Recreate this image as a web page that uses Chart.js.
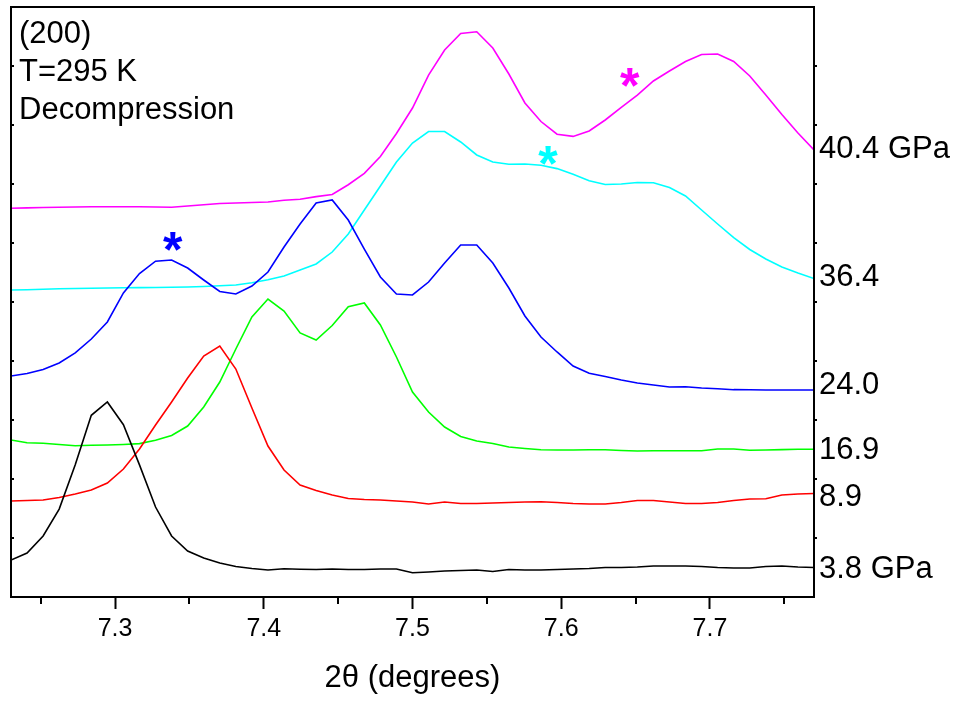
<!DOCTYPE html>
<html>
<head>
<meta charset="utf-8">
<title>(200) T=295 K Decompression</title>
<script src="https://cdn.jsdelivr.net/npm/chart.js@4.4.1/dist/chart.umd.min.js"></script>
<style>
  body { margin: 0; background: #fff; }
  #wrap { width: 960px; height: 702px; }
</style>
</head>
<body>
<div id="wrap"><canvas id="xrd" width="960" height="702"></canvas></div>
<script>
// 2theta sampling (degrees)
const twoTheta = [7.2300, 7.2408, 7.2516, 7.2624, 7.2732, 7.2840, 7.2948, 7.3056, 7.3164, 7.3272,
  7.3380, 7.3488, 7.3596, 7.3704, 7.3812, 7.3920, 7.4028, 7.4136, 7.4244, 7.4352,
  7.4460, 7.4568, 7.4676, 7.4784, 7.4892, 7.5000, 7.5108, 7.5216, 7.5324, 7.5432,
  7.5540, 7.5648, 7.5756, 7.5864, 7.5972, 7.6080, 7.6188, 7.6296, 7.6404, 7.6512,
  7.6620, 7.6728, 7.6836, 7.6944, 7.7052, 7.7160, 7.7268, 7.7376, 7.7484, 7.7592, 7.7700];

// intensities (a.u., stacked with offsets as in the plot)
const p38 = [6.27, 7.46, 10.34, 14.9, 22.4, 30.8, 33.05, 29.2, 22.4, 15.25,
  10.34, 7.8, 6.6, 5.76, 5.17, 4.83, 4.58, 4.8, 4.7, 4.66,
  4.75, 4.66, 4.66, 4.75, 4.75, 4.12, 4.24, 4.41, 4.49, 4.58,
  4.32, 4.66, 4.58, 4.58, 4.66, 4.75, 4.83, 5.0, 5.0, 5.08,
  5.25, 5.25, 5.25, 5.17, 5.0, 4.92, 4.92, 5.17, 5.25, 5.08, 5.0];
const p89 = [16.27, 16.36, 16.44, 16.86, 17.46, 18.14, 19.32, 21.69, 25.08, 29.15,
  33.05, 37.12, 40.85, 42.54, 38.64, 32.03, 25.59, 21.53, 18.98, 18.05,
  17.29, 16.69, 16.53, 16.44, 16.27, 16.10, 15.76, 16.10, 15.85, 15.85,
  15.93, 16.02, 16.10, 16.14, 16.02, 15.85, 15.76, 15.76, 16.02, 16.36,
  16.36, 16.10, 15.85, 15.85, 16.02, 16.36, 16.61, 16.66, 17.29, 17.46, 17.54];
const p169 = [26.61, 26.15, 26.07, 25.85, 25.63, 25.71, 25.76, 25.85, 26.0, 26.56,
  27.37, 28.98, 32.20, 36.44, 42.03, 47.46, 50.51, 48.47, 44.75, 43.56,
  46.02, 49.20, 49.83, 46.10, 40.68, 34.75, 31.36, 28.81, 27.20, 26.44,
  26.02, 25.42, 25.17, 24.97, 24.92, 24.92, 24.95, 24.95, 24.83, 24.75,
  24.80, 24.80, 24.80, 24.80, 25.08, 25.08, 24.88, 24.92, 24.98, 25.03, 25.05];
const p240 = [37.46, 37.88, 38.56, 39.66, 41.36, 43.73, 46.61, 51.53, 54.83, 56.92,
  57.12, 55.76, 53.73, 51.78, 51.36, 52.71, 55.08, 59.32, 63.22, 66.78,
  67.29, 63.90, 58.98, 54.24, 51.36, 51.19, 53.39, 56.61, 59.66, 59.66,
  56.61, 52.37, 47.63, 44.07, 41.53, 39.15, 37.92, 37.37, 36.78, 36.27,
  35.93, 35.59, 35.63, 35.42, 35.29, 35.14, 35.12, 35.08, 35.08, 35.08, 35.08];
const p364 = [52.03, 52.08, 52.15, 52.25, 52.29, 52.32, 52.37, 52.41, 52.44, 52.47,
  52.51, 52.54, 52.63, 52.75, 52.88, 53.25, 53.76, 54.41, 55.42, 56.44,
  58.47, 61.53, 65.59, 69.66, 73.73, 76.95, 78.90, 78.90, 77.12, 74.92,
  73.73, 73.34, 73.39, 73.17, 72.61, 71.64, 70.56, 69.92, 70.0, 70.25,
  70.22, 69.41, 67.97, 65.59, 63.22, 60.90, 58.90, 57.29, 55.93, 54.92, 53.98];
const p404 = [65.88, 65.95, 66.02, 66.07, 66.10, 66.14, 66.15, 66.15, 66.15, 66.10,
  66.07, 66.27, 66.49, 66.69, 66.78, 66.86, 66.95, 67.24, 67.42, 67.86,
  68.22, 69.88, 71.81, 74.66, 78.56, 82.88, 88.47, 92.71, 95.51, 95.80,
  93.05, 88.64, 83.73, 80.59, 78.44, 78.07, 78.98, 80.85, 82.97, 85.08,
  87.46, 89.15, 90.76, 91.95, 92.03, 90.76, 88.31, 85.08, 81.78, 78.64, 75.76];

const xTicks = [7.3, 7.4, 7.5, 7.6, 7.7];
const xMinorTicks = [7.25, 7.35, 7.45, 7.55, 7.65, 7.75];
const yTicks = [10, 20, 30, 40, 50, 60, 70, 80, 90];

const pressureLabels = ['40.4 GPa', '36.4', '24.0', '16.9', '8.9', '3.8 GPa'];
const pressureLabelLevels = [75.8, 54.1, 35.9, 24.9, 16.9, 4.6];

const infoLines = ['(200)', 'T=295 K', 'Decompression'];

// asterisks marking extra peaks
const starX = [7.3387, 7.5911, 7.6461];
const starY = [60.3, 74.9, 88.05];
const starColors = ['#0000ff', '#00ffff', '#ff00ff'];

const FONT = '"Liberation Sans", Arial, Helvetica, sans-serif';

function toPoints(ys) {
  return twoTheta.map((x, i) => ({ x: x, y: ys[i] }));
}

function series(label, ys, color) {
  return {
    label: label,
    data: toPoints(ys),
    borderColor: color,
    borderWidth: 1.6,
    pointRadius: 0,
    tension: 0,
    fill: false
  };
}

const extras = {
  id: 'extras',
  afterDraw(chart) {
    const ctx = chart.ctx;
    const a = chart.chartArea;
    const x = chart.scales.x;
    const y = chart.scales.y;
    ctx.save();

    // frame
    ctx.strokeStyle = '#000';
    ctx.lineWidth = 2;
    ctx.strokeRect(a.left, a.top, a.right - a.left, a.bottom - a.top);

    // minor x ticks
    xMinorTicks.forEach(v => {
      const px = Math.round(x.getPixelForValue(v));
      ctx.beginPath();
      ctx.moveTo(px, a.bottom);
      ctx.lineTo(px, a.bottom + 7);
      ctx.stroke();
    });

    // small y ticks, left side inward, right side outward
    yTicks.forEach(v => {
      const py = Math.round(y.getPixelForValue(v));
      ctx.beginPath();
      ctx.moveTo(a.left, py);
      ctx.lineTo(a.left + 3, py);
      ctx.moveTo(a.right, py);
      ctx.lineTo(a.right + 3, py);
      ctx.stroke();
    });

    // pressure labels on the right
    ctx.fillStyle = '#000';
    ctx.font = '31px ' + FONT;
    ctx.textAlign = 'left';
    ctx.textBaseline = 'middle';
    pressureLabels.forEach((t, i) => {
      ctx.fillText(t, a.right + 5, y.getPixelForValue(pressureLabelLevels[i]));
    });

    // info text top-left
    infoLines.forEach((t, i) => {
      ctx.fillText(t, a.left + 8, a.top + 27 + i * 38);
    });

    // asterisks
    ctx.font = 'bold 50px ' + FONT;
    ctx.textAlign = 'center';
    ctx.textBaseline = 'alphabetic';
    const m = ctx.measureText('*');
    const shift = (m.actualBoundingBoxAscent - m.actualBoundingBoxDescent) / 2;
    starX.forEach((sx, i) => {
      ctx.fillStyle = starColors[i];
      ctx.fillText('*', x.getPixelForValue(sx), y.getPixelForValue(starY[i]) + shift);
    });

    ctx.restore();
  }
};

const hiddenY = (pos) => ({
  type: 'linear',
  position: pos,
  min: 0,
  max: 100,
  afterFit: s => { s.width = pos === 'left' ? 11 : 146; },
  ticks: { display: false },
  grid: { display: false },
  border: { display: false }
});

new Chart(document.getElementById('xrd').getContext('2d'), {
  type: 'line',
  data: {
    datasets: [
      series('3.8 GPa', p38, '#000000'),
      series('8.9 GPa', p89, '#ff0000'),
      series('16.9 GPa', p169, '#00ff00'),
      series('24.0 GPa', p240, '#0000ff'),
      series('36.4 GPa', p364, '#00ffff'),
      series('40.4 GPa', p404, '#ff00ff')
    ]
  },
  options: {
    responsive: false,
    animation: false,
    layout: { padding: { top: 7, left: 0, right: 0, bottom: 0 } },
    plugins: {
      legend: { display: false },
      tooltip: { enabled: false }
    },
    scales: {
      x: {
        type: 'linear',
        min: 7.23,
        max: 7.77,
        afterBuildTicks: s => { s.ticks = xTicks.map(v => ({ value: v })); },
        afterFit: s => { s.height = 105; },
        ticks: {
          color: '#000',
          font: { family: FONT, size: 25 },
          padding: 5,
          maxRotation: 0,
          callback: v => v.toFixed(1)
        },
        grid: { drawOnChartArea: false, tickLength: 12, tickWidth: 2, tickColor: '#000' },
        border: { display: false },
        title: {
          display: true,
          text: '2θ (degrees)',
          color: '#000',
          font: { family: FONT, size: 31 },
          padding: { top: 0, bottom: 5 }
        }
      },
      y: hiddenY('left'),
      y2: hiddenY('right')
    }
  },
  plugins: [extras]
});
</script>
</body>
</html>
